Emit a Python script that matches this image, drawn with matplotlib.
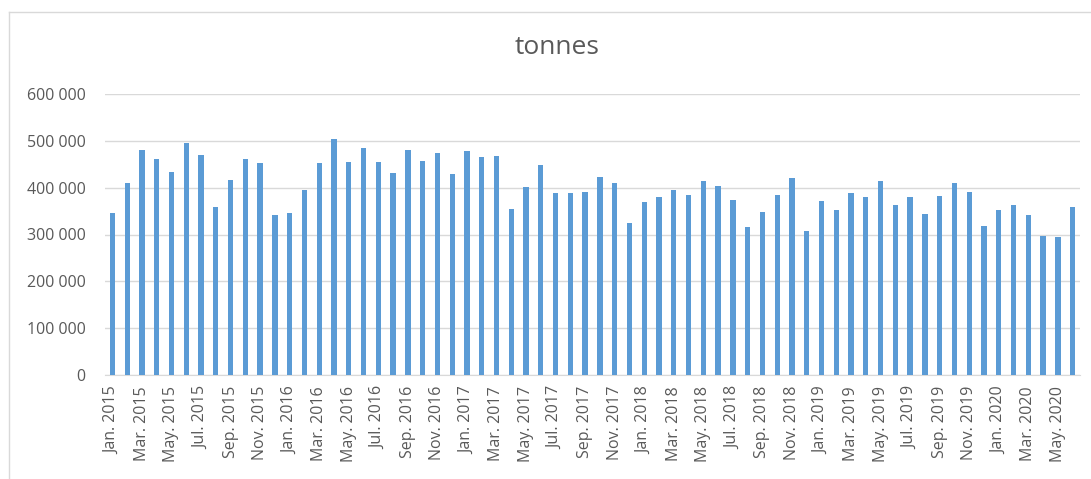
import matplotlib
matplotlib.use("Agg")
import matplotlib.pyplot as plt
from matplotlib.lines import Line2D

months = ["Jan.", "Feb.", "Mar.", "Apr.", "May.", "Jun.", "Jul.", "Aug.", "Sep.", "Oct.", "Nov.", "Dec."]
years = [2015, 2016, 2017, 2018, 2019, 2020]
categories = [f"{m} {y}" for y in years for m in months][:66]

values = [
    346000, 409000, 480000, 461000, 434000, 495000, 470000, 358000, 416000, 461000, 452000, 342000,
    346000, 396000, 452000, 504000, 455000, 484000, 455000, 432000, 480000, 457000, 473000, 429000,
    478000, 465000, 468000, 355000, 401000, 448000, 389000, 389000, 391000, 423000, 411000, 324000,
    369000, 380000, 394000, 384000, 414000, 403000, 373000, 317000, 348000, 384000, 421000, 307000,
    371000, 353000, 389000, 380000, 414000, 364000, 380000, 344000, 382000, 409000, 391000, 319000,
    353000, 364000, 342000, 297000, 294000, 359000,
]

yticks = [0, 100000, 200000, 300000, 400000, 500000, 600000]
ytick_labels = ["0", "100 000", "200 000", "300 000", "400 000", "500 000", "600 000"]

plt.rcParams['font.family'] = ['Open Sans', 'DejaVu Sans']
text_color = "#595959"
grid_color = "#D9D9D9"

fig = plt.figure(figsize=(10.91, 4.79), dpi=100)
ax = fig.add_axes([105 / 1091, 1 - 375 / 479, 975 / 1091, (375 - 94) / 479])

x = list(range(len(values)))
ax.bar(x, values, width=0.36, color="#5B9BD5", zorder=3)

ax.set_xlim(-0.5, len(values) - 0.5)
ax.set_ylim(0, 600000)
ax.set_yticks(yticks)
ax.set_yticklabels(ytick_labels)
ax.set_xticks(x[::2])
ax.set_xticklabels(categories[::2], rotation=90)
ax.tick_params(axis="both", length=0, colors=text_color)
ax.tick_params(axis="y", pad=14, labelsize=11.5)
ax.tick_params(axis="x", pad=8, labelsize=11.5)

ax.yaxis.grid(True, color=grid_color, linewidth=1, zorder=0)
for s in ["top", "right", "left"]:
    ax.spines[s].set_visible(False)
ax.spines["bottom"].set_color(grid_color)

fig.text(557 / 1091, 1 - 48 / 479, "tonnes", ha="center", va="center", fontsize=19, color=text_color)

# chart-area frame
fig.add_artist(Line2D([9 / 1091, 9 / 1091], [0, 1 - 12 / 479], transform=fig.transFigure, color=grid_color, linewidth=1))
fig.add_artist(Line2D([9 / 1091, 1], [1 - 12 / 479, 1 - 12 / 479], transform=fig.transFigure, color=grid_color, linewidth=1))

fig.savefig("out.png", dpi=100)
